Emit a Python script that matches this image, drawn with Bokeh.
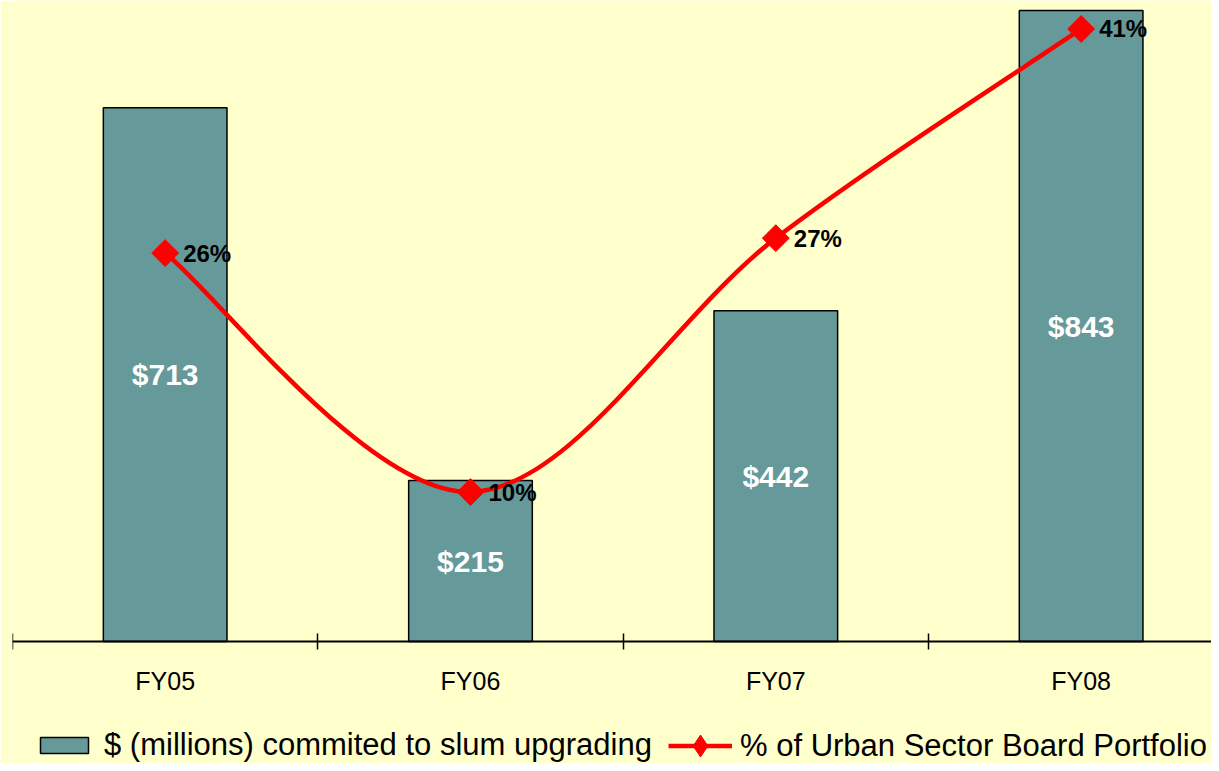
from bokeh.plotting import figure
from bokeh.models import (Range1d, FixedTicker, Legend, LegendItem, ColumnDataSource,
                          LinearAxis)
from bokeh.core.properties import value
from bokeh.embed import file_html
from bokeh.resources import INLINE
import math

# ---- data ----
categories = ["FY05", "FY06", "FY07", "FY08"]
commitments = [713, 215, 442, 843]          # $ millions
portfolio_pct = [26, 10, 27, 41]            # % of Urban Sector Board Portfolio

bar_label_text = ["$" + str(v) for v in commitments]
pct_label_text = [str(v) + "%" for v in portfolio_pct]

BG = "#FFFFCC"
BAR = "#669999"
RED = "#FF0000"
FONT = "Liberation Sans"

xs = [i + 0.5 for i in range(len(categories))]

# y ranges: the baseline sits above the bottom so that the axis labels and
# legend share the frame; the secondary (%) scale is 1/19.96 of the $ scale
Y_TOP, Y_BOTTOM = 856.4, -163.0
RATIO = 19.96

p = figure(frame_width=1199, frame_height=763, output_backend="svg", toolbar_location=None,
           x_range=Range1d(0, 3.927), y_range=Range1d(Y_BOTTOM, Y_TOP),
           x_axis_location=None, y_axis_location=None,
           min_border_left=12, min_border_right=0,
           min_border_top=0, min_border_bottom=0,
           background_fill_color=BG, border_fill_color=BG)
p.extra_y_ranges = {"pct": Range1d(Y_BOTTOM / RATIO, Y_TOP / RATIO)}
p.outline_line_color = None
p.grid.visible = False

# bars
bar_src = ColumnDataSource(dict(x=xs, top=commitments, mid=[v / 2 for v in commitments],
                                lab=bar_label_text))
bars = p.vbar(x="x", top="top", bottom=0, width=0.405, source=bar_src, fill_color=BAR,
              line_color="black", line_width=1.5)
p.text(x="x", y="mid", text="lab", source=bar_src, text_align="center",
       text_baseline="middle", text_color="white", text_font=value(FONT),
       text_font_style="bold", text_font_size="30px")

# smoothed line (Catmull-Rom style, tension 1/6) as bezier segments
n = len(xs)
px = [xs[0]] + xs + [xs[-1]]
py = [portfolio_pct[0]] + portfolio_pct + [portfolio_pct[-1]]
seg = dict(x0=[], y0=[], x1=[], y1=[], cx0=[], cy0=[], cx1=[], cy1=[])
for i in range(1, n):
    P0x, P0y = px[i - 1], py[i - 1]
    P1x, P1y = px[i], py[i]
    P2x, P2y = px[i + 1], py[i + 1]
    P3x, P3y = px[i + 2], py[i + 2]
    seg["x0"].append(P1x); seg["y0"].append(P1y)
    seg["x1"].append(P2x); seg["y1"].append(P2y)
    seg["cx0"].append(P1x + (P2x - P0x) / 6); seg["cy0"].append(P1y + (P2y - P0y) / 6)
    seg["cx1"].append(P2x - (P3x - P1x) / 6); seg["cy1"].append(P2y - (P3y - P1y) / 6)
curve = p.bezier(source=ColumnDataSource(seg), x0="x0", y0="y0", x1="x1", y1="y1",
                 cx0="cx0", cy0="cy0", cx1="cx1", cy1="cy1",
                 line_color=RED, line_width=4.5, y_range_name="pct")

pct_src = ColumnDataSource(dict(x=xs, y=portfolio_pct, lab=pct_label_text))
# diamond key markers (used for the legend), covered by the rotated squares
key_marker = p.scatter(x="x", y="y", source=pct_src, marker="diamond", size=18,
                       fill_color=RED, line_color=RED, y_range_name="pct")
marks = p.scatter(x="x", y="y", source=pct_src, marker="square", angle=math.pi / 4,
                  size=19, fill_color=RED, line_color=RED, y_range_name="pct")
p.text(x="x", y="y", text="lab", source=pct_src, y_range_name="pct", x_offset=18,
       text_align="left", text_baseline="middle", text_color="black",
       text_font=value(FONT), text_font_style="bold", text_font_size="24px")

# x axis at y = 0: labels at category centres, tick marks at category boundaries
ax = LinearAxis(fixed_location=0)
ax.ticker = FixedTicker(ticks=xs, minor_ticks=list(range(len(categories) + 1)))
ax.major_label_overrides = {x: c for x, c in zip(xs, categories)}
ax.major_tick_in = 0
ax.major_tick_out = 0
ax.minor_tick_in = 8
ax.minor_tick_out = 8
ax.minor_tick_line_color = "black"
ax.minor_tick_line_width = 1.5
ax.axis_line_color = "black"
ax.axis_line_width = 2
ax.major_label_text_font = FONT
ax.major_label_text_font_size = "25px"
ax.major_label_text_color = "black"
ax.major_label_standoff = 18
p.add_layout(ax, "below")

common = dict(orientation="horizontal", label_text_font=FONT, label_text_font_size="31px",
              label_text_color="black", label_text_line_height=1.0,
              padding=0, margin=0, background_fill_alpha=0, border_line_alpha=0)

legend_bar = Legend(items=[
    LegendItem(label="$ (millions) commited to slum upgrading", renderers=[bars]),
], location=(22, 0), glyph_width=60, glyph_height=20, label_standoff=10, **common)
p.add_layout(legend_bar)

legend_line = Legend(items=[
    LegendItem(label="% of Urban Sector Board Portfolio", renderers=[curve, key_marker]),
], location=(656, -10), glyph_width=64, glyph_height=55, label_standoff=8, **common)
p.add_layout(legend_line)

open("out.html", "w").write(file_html(p, INLINE))
